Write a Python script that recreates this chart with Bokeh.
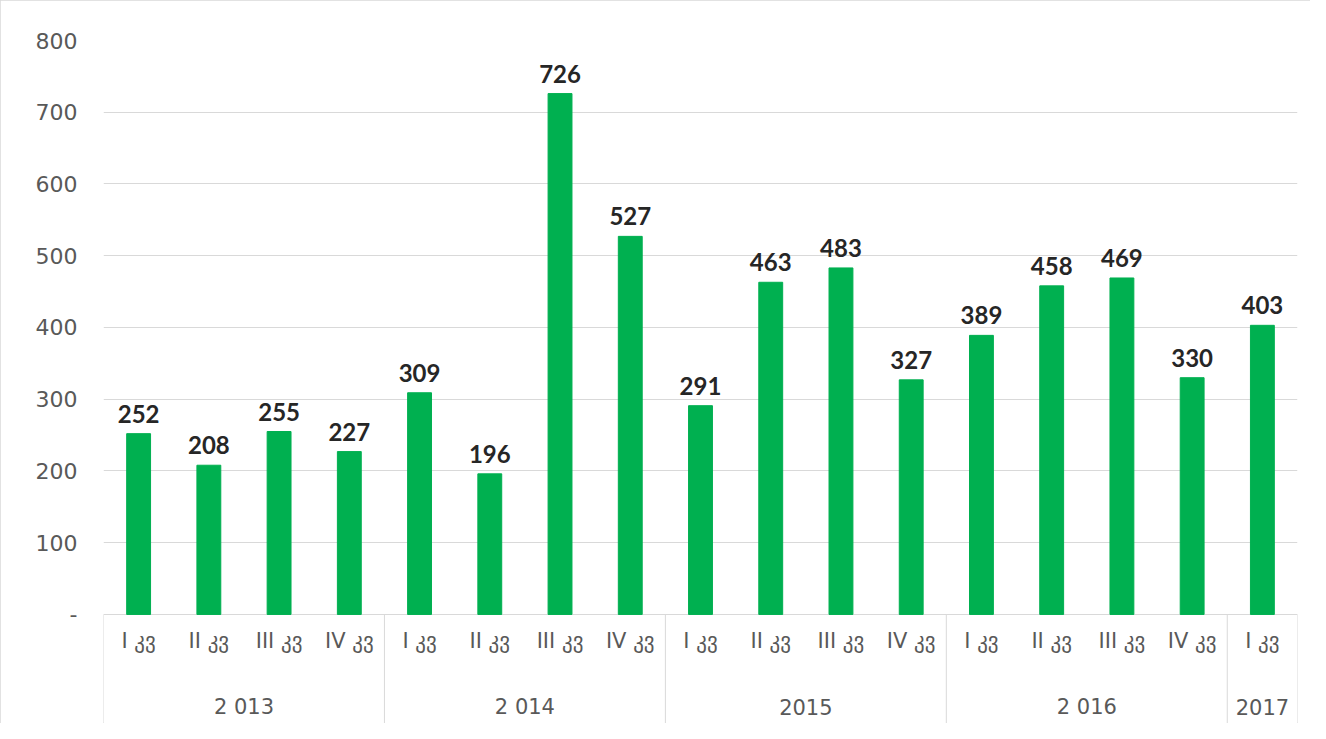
from bokeh.plotting import figure
from bokeh.models import FixedTicker, Range1d
from bokeh.core.properties import value
from bokeh.embed import file_html
from bokeh.resources import INLINE

# ---- data ----
quarter_labels = ["I კვ", "II კვ", "III კვ", "IV კვ",
                  "I კვ", "II კვ", "III კვ", "IV კვ",
                  "I კვ", "II კვ", "III კვ", "IV კვ",
                  "I კვ", "II კვ", "III კვ", "IV კვ",
                  "I კვ"]
year_labels = ["2 013", "2 014", "2015", "2 016", "2017"]
year_sizes = [4, 4, 4, 4, 1]
counts = [252, 208, 255, 227, 309, 196, 726, 527, 291, 463, 483, 327,
          389, 458, 469, 330, 403]
y_ticks = [0, 100, 200, 300, 400, 500, 600, 700, 800]

n = len(counts)
xs = list(range(n))
Y_MIN = -152

p = figure(width=1310, height=723, output_backend="svg", toolbar_location=None,
           x_range=Range1d(-0.5, n - 0.5), y_range=Range1d(Y_MIN, 800),
           min_border_left=103, min_border_right=13, min_border_top=40,
           min_border_bottom=0, x_axis_location=None)
p.outline_line_color = None
p.background_fill_color = "white"
p.border_fill_color = "white"
p.styles = {"outline": "1px solid #d9d9d9", "outline-offset": "-1px"}

# y axis
p.yaxis.ticker = FixedTicker(ticks=y_ticks)
p.yaxis.major_label_overrides = {0: "-"}
p.yaxis.axis_line_color = None
p.yaxis.major_tick_line_color = None
p.yaxis.minor_tick_line_color = None
p.yaxis.major_tick_out = 0
p.yaxis.major_label_standoff = 26
p.yaxis.major_label_text_font = "DejaVu Sans"
p.yaxis.major_label_text_font_size = "22px"
p.yaxis.major_label_text_color = "#595959"

p.xgrid.visible = False
p.ygrid.grid_line_color = "#d9d9d9"
p.ygrid.grid_line_width = 1

# bars
p.vbar(x=xs, top=counts, width=0.34, color="#00B050")

# data labels
p.text(x=xs, y=counts, text=[str(c) for c in counts], y_offset=-20,
       text_align="center", text_baseline="alphabetic",
       text_font=value("Lato"), text_font_style="bold",
       text_font_size="24px", text_color="#262626")

# quarter labels
p.text(x=xs, y=[0] * n, text=quarter_labels, y_offset=27,
       text_align="center", text_baseline="middle",
       text_font=value("DejaVu Sans"), text_font_size="21px",
       text_color="#595959")

# year labels and separators
bounds = [-0.5]
centers = []
for s in year_sizes:
    centers.append(bounds[-1] + s / 2)
    bounds.append(bounds[-1] + s)

p.text(x=centers, y=[0] * len(centers), text=year_labels, y_offset=93,
       text_align="center", text_baseline="middle",
       text_font=value("DejaVu Sans"), text_font_size="21px",
       text_color="#595959")

p.segment(x0=bounds, y0=[0] * len(bounds), x1=bounds, y1=[Y_MIN] * len(bounds),
          line_color="#d9d9d9", line_width=1)

open("out.html", "w").write(file_html(p, INLINE))
